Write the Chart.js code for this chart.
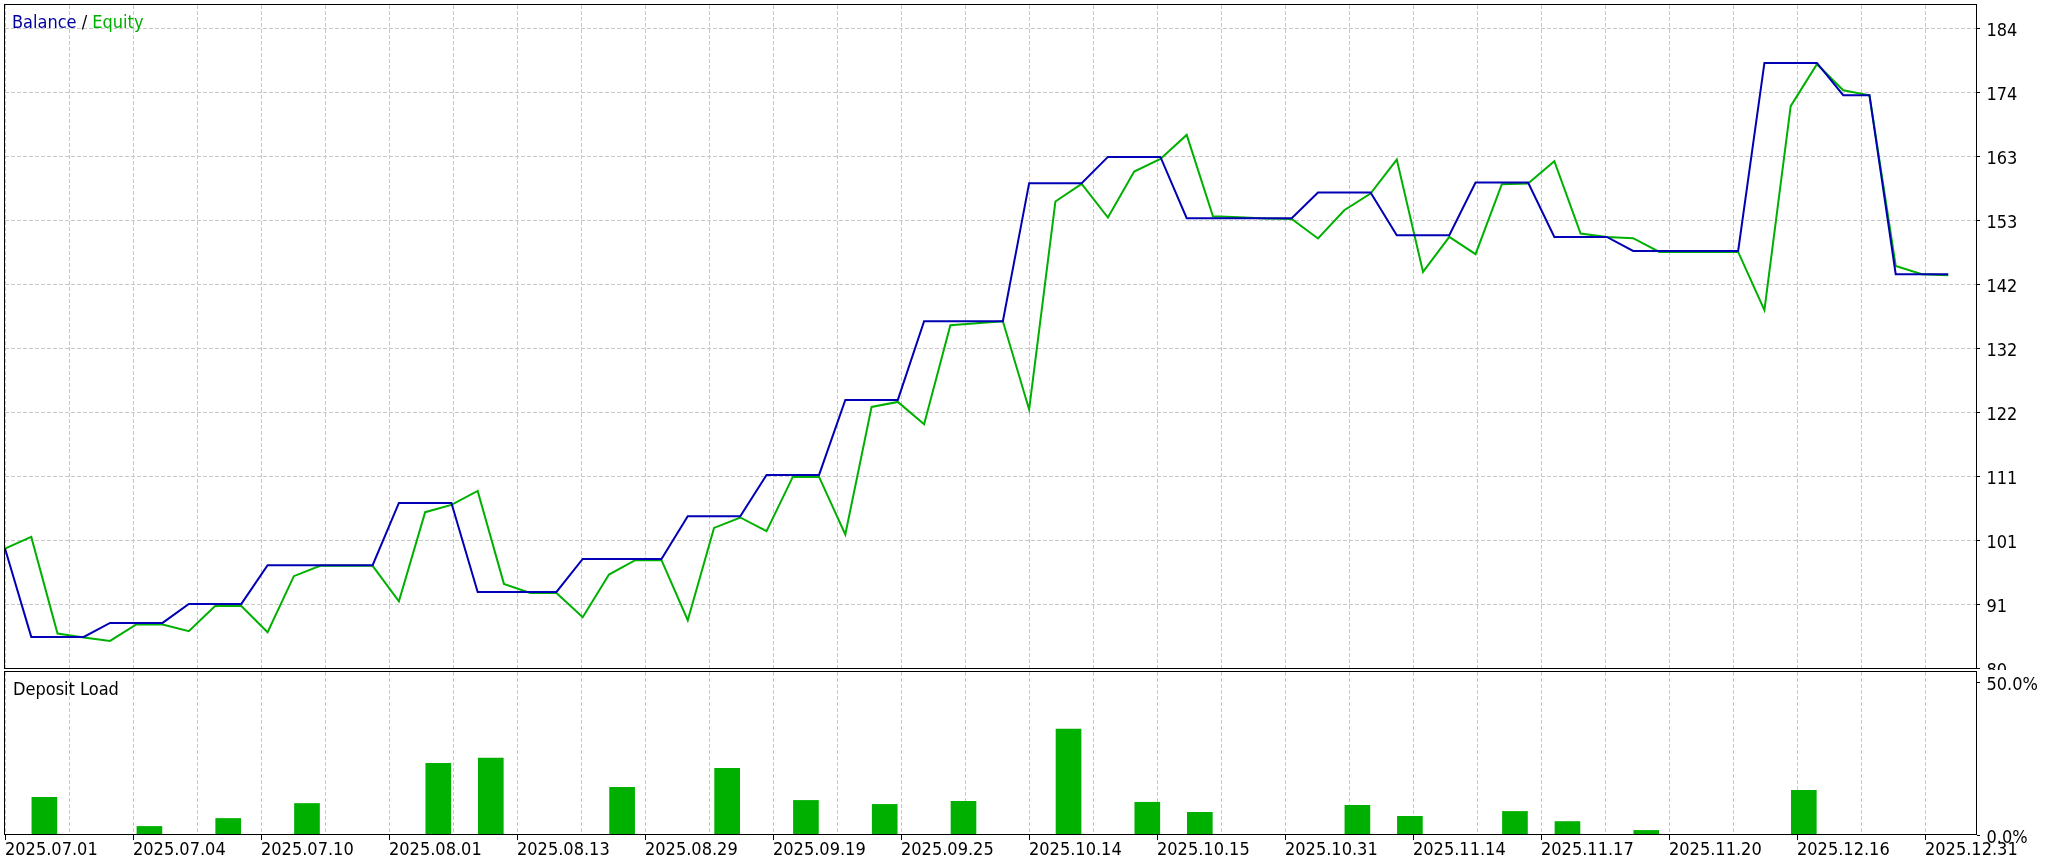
<!DOCTYPE html>
<html>
<head>
<meta charset="utf-8">
<script src="https://cdn.jsdelivr.net/npm/chart.js@4.4.1/dist/chart.umd.min.js"></script>
<style>
  html, body { margin: 0; padding: 0; background: #fff; width: 2062px; height: 864px; overflow: hidden; }
  #wrap { position: relative; width: 2062px; height: 864px; background: #fff; }
  #c1 { position: absolute; left: 0; top: 0; }
  #c2 { position: absolute; left: 0; top: 670px; }
  .ttl { position: absolute; font-family: 'DejaVu Sans Condensed', 'DejaVu Sans', sans-serif; font-size: 18px; line-height: 18px; white-space: nowrap; z-index: 5; }
</style>
</head>
<body>
<div id="wrap">
  <canvas id="c1" width="2062" height="670"></canvas>
  <canvas id="c2" width="2062" height="194"></canvas>
  <div class="ttl" style="left:12px; top:13px;"><span style="color:#0000a0">Balance</span><span style="color:#000"> / </span><span style="color:#00b000">Equity</span></div>
  <div class="ttl" style="left:13px; top:680px; color:#000;">Deposit Load</div>
</div>
<script>
// ---------- data ----------
const balance = [
  99.64, 85.32, 85.32, 85.32, 87.59, 87.59, 87.59, 90.67, 90.67, 90.67,
  96.94, 96.94, 96.94, 96.94, 96.94, 107.03, 107.03, 107.03, 92.61, 92.61,
  92.61, 92.61, 97.96, 97.96, 97.96, 97.96, 104.88, 104.88, 104.88, 111.57,
  111.57, 111.57, 123.72, 123.72, 123.72, 136.47, 136.47, 136.47, 136.47, 158.84,
  158.84, 158.84, 163.10, 163.10, 163.10, 153.16, 153.16, 153.16, 153.16, 153.16,
  157.33, 157.33, 157.33, 150.40, 150.40, 150.40, 158.95, 158.95, 158.95, 150.13,
  150.13, 150.13, 147.86, 147.86, 147.86, 147.86, 147.86, 178.33, 178.33, 178.33,
  173.09, 173.09, 144.09, 144.09, 144.09
];
const equity = [
  99.64, 101.53, 85.87, 85.22, 84.67, 87.33, 87.33, 86.24, 90.34, 90.34,
  86.08, 95.16, 96.83, 96.83, 96.83, 91.10, 105.53, 106.71, 108.98, 93.91,
  92.45, 92.45, 88.51, 95.43, 97.75, 97.75, 88.03, 102.98, 104.67, 102.45,
  111.25, 111.25, 101.91, 122.59, 123.40, 119.78, 135.82, 136.15, 136.47, 122.17,
  155.87, 158.72, 153.27, 160.73, 162.77, 166.66, 153.49, 153.30, 153.10, 153.05,
  149.87, 154.46, 157.16, 162.67, 144.46, 150.13, 147.33, 158.67, 158.78, 162.40,
  150.68, 150.13, 149.92, 147.70, 147.70, 147.70, 147.70, 138.26, 171.31, 178.12,
  173.90, 173.09, 145.43, 144.09, 143.93
];
// deal index after which each deposit-load bar sits, and its load in %
const loadDeal = [1, 5, 8, 11, 16, 18, 23, 27, 30, 33, 36, 40, 43, 45, 51, 53, 57, 59, 62, 68];
const depositLoad = [12.3, 2.8, 5.4, 10.3, 23.4, 25.1, 15.6, 21.8, 11.3, 10.0, 11.0, 34.6, 10.7, 7.4, 9.7, 6.1, 7.7, 4.4, 1.5, 14.6];
const dateLabels = ['2025.07.01', '2025.07.04', '2025.07.10', '2025.08.01', '2025.08.13', '2025.08.29',
  '2025.09.19', '2025.09.25', '2025.10.14', '2025.10.15', '2025.10.31', '2025.11.14',
  '2025.11.17', '2025.11.20', '2025.12.16', '2025.12.31'];
const balanceTickLabels = ['80', '91', '101', '111', '122', '132', '142', '153', '163', '174', '184'];
const loadTickValues = [0, 50];
const loadTickLabels = ['0.0%', '50.0%'];

// ---------- layout / style constants ----------
const Y_TICK_START = 80.2, Y_TICK_STEP = 10.37;
const PX_PER_DEAL = 26.26;
const X_MAX = 1972 / PX_PER_DEAL;
const X_GRID_STEP = 64 / PX_PER_DEAL;
const FONT = { family: "'DejaVu Sans Condensed', 'DejaVu Sans', sans-serif", size: 18 };
const GRID_COLOR = '#c8c8c8';
const DASH = [4, 2];
const BLUE = '#0000b4', GREEN = '#00b000';

function buildXTicks(s) {
  const t = [];
  for (let k = 0; k * X_GRID_STEP <= X_MAX + 1e-6; k++) t.push({ value: k * X_GRID_STEP });
  s.ticks = t;
}

const paneBorder = {
  id: 'paneBorder',
  afterDraw(chart) {
    const { ctx, chartArea: a } = chart;
    ctx.save();
    ctx.strokeStyle = '#000';
    ctx.lineWidth = 1;
    ctx.strokeRect(a.left - 0.5, a.top - 0.5, a.right - a.left, a.bottom - a.top);
    ctx.restore();
  }
};

const common = {
  responsive: false,
  devicePixelRatio: 1,
  animation: false,
  events: [],
  plugins: { legend: { display: false }, tooltip: { enabled: false }, title: { display: false } }
};

// ---------- top pane: balance / equity ----------
new Chart(document.getElementById('c1'), {
  type: 'line',
  data: {
    datasets: [
      { label: 'Balance', data: balance.map((v, i) => ({ x: i, y: v })), borderColor: BLUE, borderWidth: 2,
        pointRadius: 0, tension: 0, fill: false, order: 1 },
      { label: 'Equity', data: equity.map((v, i) => ({ x: i, y: v })), borderColor: GREEN, borderWidth: 2,
        pointRadius: 0, tension: 0, fill: false, order: 2 }
    ]
  },
  options: Object.assign({}, common, {
    layout: { padding: { left: 5, top: 5, right: 0, bottom: 1 } },
    scales: {
      x: {
        type: 'linear', min: 0, max: X_MAX, offset: false,
        afterBuildTicks: buildXTicks,
        afterFit: s => { s.height = 0; s.paddingLeft = 0; s.paddingRight = 0; },
        ticks: { display: false },
        grid: { color: GRID_COLOR, drawTicks: false, offset: false },
        border: { display: false, dash: DASH }
      },
      y: {
        position: 'right', min: 80.12, max: 187.71,
        afterBuildTicks: s => { s.ticks = balanceTickLabels.map((_, k) => ({ value: Y_TICK_START + k * Y_TICK_STEP })); },
        afterFit: s => { s.width = 85; s.paddingTop = 0; s.paddingBottom = 0; },
        ticks: { callback: (v, i) => balanceTickLabels[i], color: '#000', font: FONT, padding: 6.5, labelOffset: 3, autoSkip: false },
        grid: { color: GRID_COLOR, tickColor: '#000', tickLength: 3, drawTicks: true },
        border: { display: false, dash: DASH }
      }
    }
  }),
  plugins: [paneBorder]
});

// ---------- bottom pane: deposit load ----------
new Chart(document.getElementById('c2'), {
  type: 'bar',
  data: {
    datasets: [
      { label: 'Deposit Load', data: loadDeal.map((d, k) => ({ x: d + 0.5, y: depositLoad[k] })),
        backgroundColor: GREEN, borderWidth: 0, barThickness: 25 }
    ]
  },
  options: Object.assign({}, common, {
    layout: { padding: { left: 5, top: 2, right: 0, bottom: 0 } },
    scales: {
      x: {
        type: 'linear', min: 0, max: X_MAX, offset: false,
        afterBuildTicks: buildXTicks,
        afterFit: s => { s.height = 29; s.paddingLeft = 0; s.paddingRight = 0; },
        ticks: {
          callback: (v, i) => (i % 2 === 0 ? (dateLabels[i / 2] || '') : ''),
          color: '#000', font: FONT, align: 'start', padding: -0.5,
          maxRotation: 0, minRotation: 0, autoSkip: false
        },
        grid: { color: GRID_COLOR, offset: false, drawTicks: true, tickLength: 5,
          tickColor: c => (c.index % 2 === 0 ? '#000' : 'rgba(0,0,0,0)') },
        border: { display: false, dash: DASH }
      },
      y: {
        position: 'right', min: 0, max: 53.27,
        afterBuildTicks: s => { s.ticks = loadTickValues.map(v => ({ value: v })); },
        afterFit: s => { s.width = 85; s.paddingTop = 0; s.paddingBottom = 0; },
        ticks: { callback: (v, i) => loadTickLabels[i], color: '#000', font: FONT, padding: 6.5, labelOffset: 3, autoSkip: false },
        grid: { drawOnChartArea: false, tickColor: '#000', tickLength: 3 },
        border: { display: false }
      }
    }
  }),
  plugins: [paneBorder]
});
</script>
</body>
</html>
